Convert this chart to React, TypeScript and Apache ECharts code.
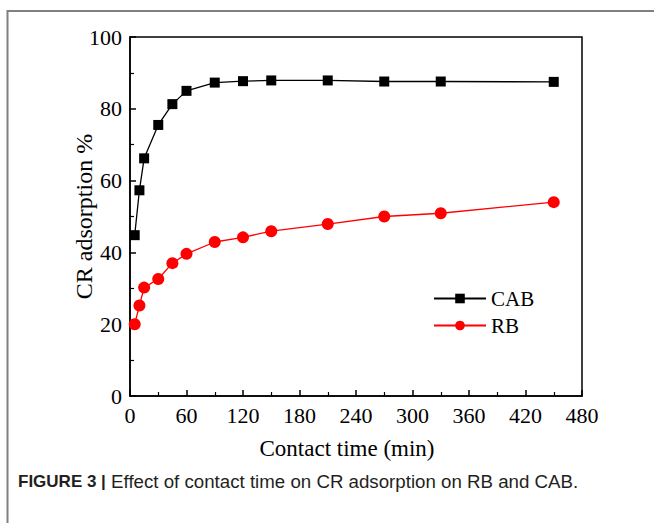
import React, { useEffect, useRef } from "react";
import * as echarts from "echarts";

const timeMin = [5, 10, 15, 30, 45, 60, 90, 120, 150, 210, 270, 330, 450];
const cabValues = [44.8, 57.3, 66.2, 75.5, 81.3, 85.0, 87.3, 87.7, 87.9, 87.9, 87.6, 87.6, 87.5];
const rbValues = [20.0, 25.2, 30.2, 32.6, 37.0, 39.6, 42.9, 44.2, 45.9, 47.9, 50.0, 50.9, 54.0];
const xTicks = [0, 60, 120, 180, 240, 300, 360, 420, 480];
const yTicks = [0, 20, 40, 60, 80, 100];
const seriesNames = ["CAB", "RB"];
const xTitle = "Contact time (min)";
const yTitle = "CR adsorption %";
const captionBold = "FIGURE 3 |";
const captionText = " Effect of contact time on CR adsorption on RB and CAB.";

const serif = "'Liberation Serif', 'Times New Roman', serif";
const sans = "'Liberation Sans', Arial, sans-serif";

export default function App() {
  const ref = useRef<HTMLDivElement>(null);
  useEffect(() => {
    if (!ref.current) return;
    const chart = echarts.init(ref.current, null, { renderer: "svg" });
    const axisCommon = {
      axisLine: { lineStyle: { color: "#000", width: 1.5 } },
      axisTick: { inside: true, length: 6, lineStyle: { color: "#000", width: 1.5 } },
      minorTick: { show: true, splitNumber: 2, length: 4, lineStyle: { color: "#000", width: 1.2 } },
      splitLine: { show: false },
      axisLabel: { color: "#000", fontFamily: serif, fontSize: 22, margin: 8 },
    };
    chart.setOption({
      animation: false,
      backgroundColor: "#fff",
      grid: {
        left: 130,
        top: 37,
        width: 452,
        height: 359,
        show: true,
        borderColor: "#000",
        borderWidth: 1.5,
        backgroundColor: "transparent",
      },
      legend: {
        orient: "vertical",
        left: 428,
        top: 283,
        itemWidth: 52,
        itemHeight: 12,
        itemGap: 6,
        textStyle: { color: "#000", fontFamily: serif, fontSize: 21 },
        data: seriesNames,
      },
      xAxis: {
        type: "value",
        min: xTicks[0],
        max: xTicks[xTicks.length - 1],
        interval: 60,
        name: xTitle,
        nameLocation: "middle",
        nameGap: 41,
        nameMoveOverlap: false,
        nameTextStyle: { color: "#000", fontFamily: serif, fontSize: 23, padding: [0, 18, 0, 0] },
        ...axisCommon,
      },
      yAxis: {
        type: "value",
        min: yTicks[0],
        max: yTicks[yTicks.length - 1],
        interval: 20,
        name: yTitle,
        nameLocation: "middle",
        nameGap: 34,
        nameMoveOverlap: false,
        nameTextStyle: { color: "#000", fontFamily: serif, fontSize: 24 },
        ...axisCommon,
      },
      series: [
        {
          name: seriesNames[0],
          type: "line",
          data: timeMin.map((t, i) => [t, cabValues[i]]),
          symbol: "rect",
          symbolSize: 10,
          itemStyle: { color: "#000" },
          lineStyle: { color: "#000", width: 1.3 },
        },
        {
          name: seriesNames[1],
          type: "line",
          data: timeMin.map((t, i) => [t, rbValues[i]]),
          symbol: "circle",
          symbolSize: 12,
          itemStyle: { color: "#ff0000" },
          lineStyle: { color: "#ff0000", width: 1.3 },
        },
      ],
      graphic: [
        {
          type: "line",
          shape: { x1: 7.5, y1: 11, x2: 654, y2: 11 },
          style: { stroke: "#808080", lineWidth: 2 },
        },
        {
          type: "line",
          shape: { x1: 7.5, y1: 10, x2: 7.5, y2: 523 },
          style: { stroke: "#808080", lineWidth: 2 },
        },
        {
          type: "text",
          left: 18,
          top: 472,
          style: {
            text: "{b|" + captionBold + "}{r|" + captionText + "}",
            rich: {
              b: { fontFamily: sans, fontWeight: "bold", fontSize: 17, fill: "#231f20" },
              r: { fontFamily: sans, fontSize: 18.7, fill: "#231f20" },
            },
          },
        },
      ],
    });
    return () => chart.dispose();
  }, []);
  return (
    <div
      ref={ref}
      style={{ position: "fixed", left: 0, top: 0, width: 654, height: 523, background: "#fff" }}
    />
  );
}
